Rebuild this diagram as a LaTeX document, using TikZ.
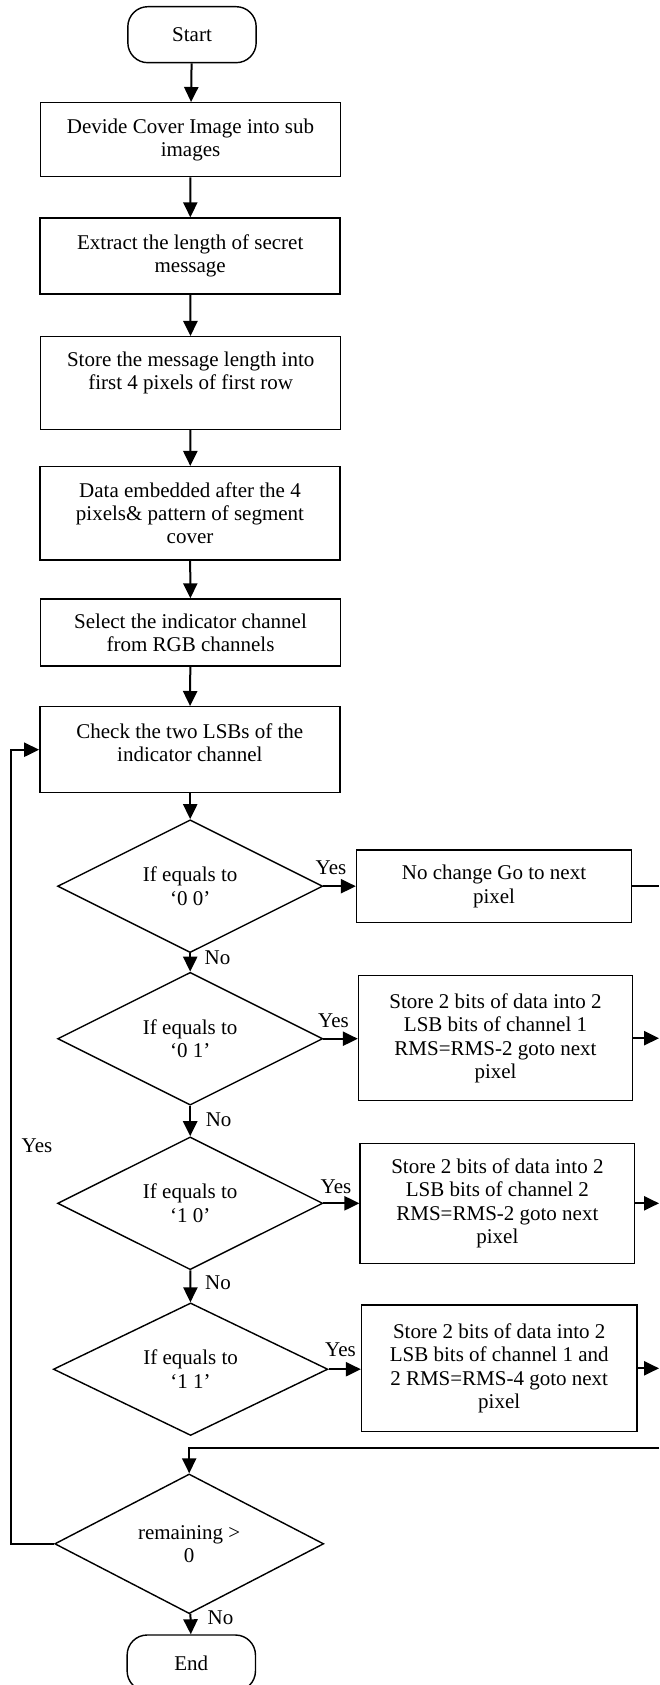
\documentclass[tikz,border=0pt]{standalone}
\usepackage{fontspec}
\setmainfont{Liberation Serif}
\usetikzlibrary{shapes.geometric,arrows.meta}
\begin{document}
\begin{tikzpicture}[x=0.6pt,y=-0.6pt,
  every node/.style={font=\fontsize{12.6pt}{14pt}\selectfont, inner sep=0pt, align=center},
  box/.style={draw, line width=0.85pt, minimum width=180pt},
  rbox/.style={draw, line width=0.85pt},
  term/.style={draw, line width=0.85pt, rounded corners=12pt, minimum width=77pt, minimum height=33.6pt},
  dec/.style={draw, diamond, line width=0.85pt, inner sep=0pt},
  arr/.style={line width=1.2pt, -{Triangle[length=9pt,width=8.5pt]}},
  ln/.style={line width=1.2pt}
]
\clip (0,0) rectangle (659,1685);
\fill[white] (0,0) rectangle (659,1685);

% main column
\node[term] (start) at (192,34.7) {Start};
\node[box, minimum height=44.4pt] (b1) at (190.5,139.7) {Devide Cover Image into sub\\images};
\node[box, minimum height=45.6pt] (b2) at (190.2,256) {Extract the length of secret\\message};
\node[box, minimum height=55.6pt] (b3) at (190.7,383) {};
\node (t3) at (190.7,372.8) {Store the message length into\\first 4 pixels of first row};
\node[box, minimum height=56pt] (b4) at (190,513.3) {Data embedded after the 4\\pixels\& pattern of segment\\cover};
\node[box, minimum height=40.2pt] (b5) at (190.5,632.5) {Select the indicator channel\\from RGB channels};
\node[box, minimum height=51.6pt] (b6) at (189.8,749.7) {};
\node (t6) at (189.8,742.5) {Check the two LSBs of the\\indicator channel};

\node[dec, minimum width=159.1pt, minimum height=65.4pt] (d1) at (190.2,886.2) {If equals to\\‘0 0’};
\node[dec, minimum width=159.1pt, minimum height=69.6pt] (d2) at (190.2,1038.7) {If equals to\\‘0 1’};
\node[dec, minimum width=159.1pt, minimum height=66pt] (d3) at (190.2,1203.3) {If equals to\\‘1 0’};
\node[dec, minimum width=164.7pt, minimum height=69pt] (d4) at (190.6,1369.2) {If equals to\\‘1 1’};
\node[dec, minimum width=161.4pt, minimum height=70.6pt] (d5) at (189.2,1543.8) {remaining >\\0};
\node[term] (end) at (191.3,1663) {End};

% right column
\node[rbox, minimum width=165pt, minimum height=43.6pt] (r1) at (494,886.4) {No change Go to next\\pixel};
\node[rbox, minimum width=164.4pt, minimum height=75pt] (r2) at (495.5,1038.2) {Store 2 bits of data into 2\\LSB bits of channel 1\\RMS=RMS-2 goto next\\pixel};
\node[rbox, minimum width=164.8pt, minimum height=72pt] (r3) at (497.4,1203.3) {Store 2 bits of data into 2\\LSB bits of channel 2\\RMS=RMS-2 goto next\\pixel};
\node[rbox, minimum width=165.2pt, minimum height=76pt] (r4) at (499.2,1368.3) {Store 2 bits of data into 2\\LSB bits of channel 1 and\\2 RMS=RMS-4 goto next\\pixel};

\coordinate (R) at (659,0);
\coordinate (L) at (10.5,0);
\coordinate (M) at (659,1448.3);

% connectors
\draw[arr] (start) -- (b1);
\draw[arr] (b1) -- (b2);
\draw[arr] (b2) -- (b3);
\draw[arr] (b3) -- (b4);
\draw[arr] (b4) -- (b5);
\draw[arr] (b5) -- (b6);
\draw[arr] (b6.south -| d1.north) -- (d1.north);
\draw[arr] (d1) -- (d2);
\draw[arr] (d2) -- (d3);
\draw[arr] (d3) -- (d4);
\draw[arr] (d5) -- (end);

\draw[arr] (d1.east) -- (d1.east -| r1.west);
\draw[arr] (d2.east) -- (d2.east -| r2.west);
\draw[arr] (d3.east) -- (d3.east -| r3.west);
\draw[arr] (d4.east) -- (d4.east -| r4.west);

\draw[ln] (r1.east) -- (r1.east -| R);
\draw[arr] (r2.east) -- (r2.east -| R);
\draw[arr] (r3.east) -- (r3.east -| R);
\draw[arr] (r4.east) -- (r4.east -| R);

\draw[arr] (M) -- (M -| d5.north) -- (d5.north);
\draw[arr] (d5.west) -- (d5.west -| L) |- (b6.west);

% labels
\node (y1) at (331,868) {Yes};
\node (y2) at (333.5,1021) {Yes};
\node (y3) at (336,1187) {Yes};
\node (y4) at (340.5,1350) {Yes};
\node (y5) at (37,1146) {Yes};
\node (n1) at (217.5,958) {No};
\node (n2) at (218.6,1120) {No};
\node (n3) at (218,1282.7) {No};
\node (n4) at (220.5,1618) {No};
\end{tikzpicture}
\end{document}
